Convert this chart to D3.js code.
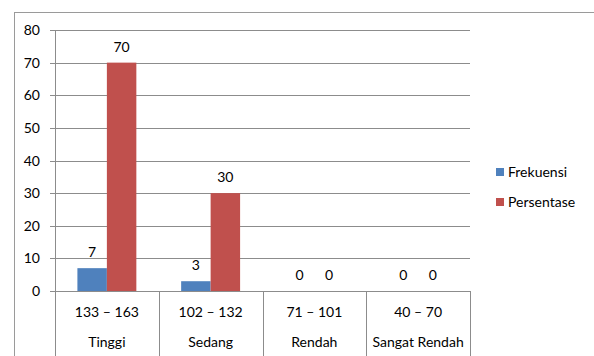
<!DOCTYPE html>
<html>
<head>
<meta charset="utf-8">
<script src="https://cdn.jsdelivr.net/npm/d3@7"></script>
<style>
  html, body { margin: 0; padding: 0; background: #fff; }
  svg { display: block; }
  text { font-family: "Lato", "Open Sans", sans-serif; fill: #000; }
</style>
</head>
<body>
<svg id="chart" width="594" height="356"></svg>
<script>
// Score ranges and their classification
const ranges = ["133 – 163", "102 – 132", "71 – 101", "40 – 70"];
const classes = ["Tinggi", "Sedang", "Rendah", "Sangat Rendah"];
const seriesNames = ["Frekuensi", "Persentase"];
const frekuensi = [7, 3, 0, 0];
const persentase = [70, 30, 0, 0];
const yTicks = [0, 10, 20, 30, 40, 50, 60, 70, 80];
const colors = ["#4F81BD", "#C0504D"];

const svg = d3.select("#chart");
const plot = { left: 55, right: 470, top: 30, bottom: 291 };

// outer frame (top and left edges visible)
svg.append("line").attr("x1", 14).attr("x2", 594).attr("y1", 12.5).attr("y2", 12.5)
  .attr("stroke", "#9a9a9a").attr("stroke-width", 1);
svg.append("line").attr("x1", 14.5).attr("x2", 14.5).attr("y1", 12).attr("y2", 356)
  .attr("stroke", "#9a9a9a").attr("stroke-width", 1);

const x0 = d3.scaleBand().domain(d3.range(ranges.length))
  .range([plot.left, plot.right]).paddingInner(0).paddingOuter(0);
const x1 = d3.scaleBand().domain(seriesNames)
  .range([0, x0.bandwidth()]).paddingInner(0).paddingOuter(0.76);
const y = d3.scaleLinear().domain([0, 80]).range([plot.bottom, plot.top]);

// horizontal gridlines and y tick labels
const gy = svg.append("g");
yTicks.forEach(t => {
  const yy = Math.round(y(t)) + 0.5;
  gy.append("line").attr("x1", plot.left - 5).attr("x2", plot.right)
    .attr("y1", yy).attr("y2", yy).attr("stroke", "#8c8c8c").attr("stroke-width", 1);
  gy.append("text").attr("x", 40).attr("y", yy).attr("dy", "0.35em")
    .attr("text-anchor", "end").attr("font-size", 14).text(t);
});

// y axis line
svg.append("line").attr("x1", plot.left + 0.5).attr("x2", plot.left + 0.5)
  .attr("y1", plot.top).attr("y2", plot.bottom).attr("stroke", "#8c8c8c");

// category separators below the axis
d3.range(ranges.length + 1).forEach(i => {
  const xx = Math.round(plot.left + i * x0.bandwidth()) + 0.5;
  svg.append("line").attr("x1", xx).attr("x2", xx)
    .attr("y1", plot.bottom).attr("y2", 356).attr("stroke", "#8c8c8c");
});

// bars and value labels
const data = [frekuensi, persentase];
const groups = svg.append("g").selectAll("g").data(ranges).join("g")
  .attr("transform", (d, i) => `translate(${x0(i)},0)`);

groups.each(function (d, i) {
  const g = d3.select(this);
  seriesNames.forEach((s, k) => {
    const v = data[k][i];
    g.append("rect").attr("x", x1(s)).attr("width", x1.bandwidth())
      .attr("y", y(v)).attr("height", y(0) - y(v)).attr("fill", colors[k]);
    g.append("text").attr("x", x1(s) + x1.bandwidth() / 2).attr("y", y(v) - 11)
      .attr("text-anchor", "middle").attr("font-size", 14).text(v);
  });
});

// two-row category labels
ranges.forEach((r, i) => {
  const cx = x0(i) + x0.bandwidth() / 2;
  svg.append("text").attr("x", cx).attr("y", 312).attr("dy", "0.35em")
    .attr("text-anchor", "middle").attr("font-size", 14).text(r);
  svg.append("text").attr("x", cx).attr("y", 342).attr("dy", "0.35em")
    .attr("text-anchor", "middle").attr("font-size", 14).text(classes[i]);
});

// legend
const legend = svg.append("g");
seriesNames.forEach((s, k) => {
  const ly = 172 + k * 30;
  legend.append("rect").attr("x", 496).attr("y", ly - 4).attr("width", 8).attr("height", 8)
    .attr("fill", colors[k]);
  legend.append("text").attr("x", 508).attr("y", ly).attr("dy", "0.35em")
    .attr("font-size", 14).text(s);
});
</script>
</body>
</html>
